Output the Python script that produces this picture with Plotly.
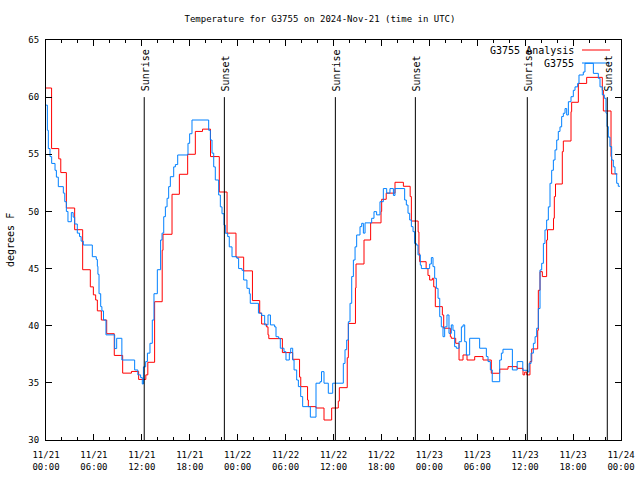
import pandas as pd
import plotly.graph_objects as go

# ---------------- data ----------------
START = "2024-11-21 00:00"
END = "2024-11-24 00:00"

analysis_hours = [0.0, 0.7, 1.6, 1.85, 2.55, 3.59, 4.59, 5.55, 5.93, 6.22, 6.43, 6.93, 7.6,
                  8.55, 9.6, 10.7, 11.6, 12.5, 12.75, 13.6, 14.55, 14.65, 15.78, 16.7, 17.74,
                  18.7, 19.6, 20.6, 21.7, 22.67, 23.79, 24.75, 25.85, 26.76, 27.0, 27.6, 27.8,
                  27.9, 29.6, 30.89, 31.75, 31.9, 32.75, 32.85, 33.81, 34.81, 35.77, 36.6,
                  36.73, 37.72, 37.86, 38.75, 38.82, 39.82, 40.65, 41.95, 42.03, 42.6, 43.7,
                  44.75, 45.6, 45.75, 46.6, 46.7, 46.79, 47.6, 47.83, 48.04, 48.38, 48.55,
                  48.75, 49.63, 49.8, 50.63, 50.75, 51.3, 51.72, 52.22, 52.72, 53.68, 54.72,
                  55.76, 56.81, 57.85, 58.98, 59.73, 59.94, 60.19, 60.6, 60.82, 61.57, 61.65,
                  61.86, 62.15, 62.69, 62.8, 63.55, 63.65, 63.8, 64.65, 64.78, 65.74, 65.82,
                  66.66, 67.7, 69.66, 69.79, 70.75, 70.83, 71.54]
analysis_temps = [60.8, 55.5, 54.6, 53.4, 50.3, 48.4, 44.9, 43.4, 42.7, 42.25, 41.3, 40.5, 39.3,
                  37.4, 35.85, 36.0, 35.3, 35.7, 36.8, 42.1, 46.6, 48.0, 51.5, 53.25, 55.0,
                  57.0, 57.2, 54.8, 51.7, 48.1, 46.0, 44.8, 42.2, 41.1, 40.15, 39.9, 39.2,
                  38.87, 37.65, 37.06, 35.5, 34.67, 33.5, 32.92, 32.8, 31.75, 32.8, 33.4,
                  34.58, 37.2, 40.2, 43.3, 45.4, 47.5, 49.0, 50.0, 51.06, 51.6, 52.55,
                  52.2, 51.3, 49.16, 48.2, 46.3, 45.6, 45.0, 44.4, 44.0, 44.15, 43.4,
                  41.67, 40.94, 39.78, 39.04, 38.9, 38.46, 37.0, 37.44, 37.0, 37.3, 37.0,
                  35.84, 36.2, 36.42, 36.27, 35.7, 35.94, 35.7, 36.86, 37.97, 39.6, 43.1,
                  44.73, 44.3, 47.5, 48.4, 49.4, 51.3, 52.4, 55.23, 56.16, 58.73, 59.55,
                  61.2, 61.73, 60.6, 58.79, 54.8, 53.28, 53.28]

station_hours = [0.0, 0.17, 0.29, 0.5, 0.71, 1.13, 1.3, 1.54, 2.17, 2.35, 2.55, 2.75, 3.17, 3.4,
                 3.59, 3.92, 4.2, 4.4, 4.67, 5.8, 6.3, 6.43, 6.5, 6.64, 6.85, 7.0, 7.2, 7.51,
                 8.6, 8.85, 9.5, 11.1, 11.5, 11.85, 12.06, 12.2, 12.48, 12.7, 13.02, 13.31,
                 13.52, 13.94, 14.35, 14.53, 14.74, 14.95, 15.16, 15.36, 15.57, 15.99, 16.2,
                 16.49, 17.78, 17.99, 18.28, 20.37, 20.58, 20.79, 21.0, 21.2, 21.62, 21.83,
                 22.04, 22.29, 22.45, 22.75, 22.95, 23.29, 23.9, 24.12, 24.54, 24.75, 25.16,
                 25.46, 25.58, 26.6, 27.0, 27.38, 27.8, 28.1, 28.63, 28.8, 29.13, 29.34,
                 29.8, 30.05, 30.47, 30.64, 30.89, 31.06, 31.39, 31.6, 31.89, 32.14, 33.1,
                 33.81, 34.31, 34.5, 34.81, 35.35, 35.9, 37.23, 37.44, 37.65, 37.86, 38.07,
                 38.28, 38.49, 38.7, 38.9, 39.32, 39.53, 39.74, 39.95, 40.78, 41.07, 41.4,
                 41.82, 42.24, 42.66, 43.07, 43.5, 43.7, 44.91, 45.12, 45.33, 45.54, 45.75,
                 45.96, 46.16, 46.37, 46.58, 46.87, 47.0, 48.04, 48.25, 48.46, 48.67, 48.88,
                 49.09, 49.3, 49.5, 49.71, 49.92, 50.21, 50.46, 50.75, 50.96, 51.17, 51.38,
                 51.72, 52.01, 52.22, 52.43, 52.64, 53.05, 54.3, 55.14, 55.35, 55.64, 55.88,
                 56.81, 57.02, 57.22, 58.4, 59.0, 59.7, 60.32, 60.49, 60.74, 61.03, 61.24,
                 61.44, 61.65, 61.86, 62.07, 62.28, 62.48, 62.69, 62.9, 63.11, 63.32, 63.53,
                 63.74, 63.95, 64.15, 64.36, 64.57, 64.78, 64.99, 65.2, 65.41, 65.74, 66.03,
                 66.24, 66.57, 66.74, 67.28, 67.49, 68.54, 69.16, 69.37, 69.66, 69.91, 70.12,
                 70.25, 70.41, 70.62, 70.83, 71.04, 71.25, 71.46, 71.66, 71.87]
station_temps = [59.3, 57.1, 55.5, 54.8, 54.2, 53.6, 53.0, 52.17, 51.6, 50.85, 50.0, 49.1, 49.9,
                 49.5, 48.9, 48.1, 47.8, 47.4, 47.06, 46.04, 45.8, 45.2, 44.5, 42.8, 41.67,
                 41.3, 40.5, 39.2, 38.0, 38.9, 37.0, 36.13, 35.7, 35.46, 34.9, 36.4, 36.86,
                 37.6, 38.46, 40.5, 42.8, 44.9, 47.5, 48.1, 49.54, 50.4, 51.15, 52.17, 53.04,
                 53.9, 54.1, 54.94, 55.96, 56.8, 58.0, 57.1, 56.25, 55.1, 53.9, 52.75, 51.44,
                 50.4, 49.8, 48.8, 48.09, 47.8, 46.9, 46.04, 45.9, 45.0, 44.85, 44.0, 43.27,
                 42.8, 41.96, 41.1, 40.9, 40.07, 40.94, 40.07, 39.9, 39.04, 38.9, 38.03,
                 37.73, 37.0, 37.6, 38.03, 37.0, 36.13, 35.25, 34.67, 33.8, 32.92, 32.0,
                 34.97, 35.1, 35.98, 34.97, 34.09, 34.97, 36.7, 37.9, 38.75, 40.35, 41.96,
                 44.3, 45.75, 46.9, 47.94, 48.67, 48.96, 48.1, 49.0, 49.4, 49.98, 49.7,
                 50.85, 52.0, 51.6, 52.0, 51.4, 52.0, 51.0, 50.56, 49.84, 49.25, 48.67,
                 48.23, 47.2, 47.06, 46.2, 45.3, 45.0, 45.4, 45.96, 45.17, 44.15, 43.27,
                 42.4, 40.79, 39.9, 39.04, 39.9, 40.94, 39.33, 40.07, 39.6, 38.17, 38.03,
                 38.6, 39.9, 40.07, 38.6, 37.44, 38.9, 38.03, 37.3, 36.86, 36.13, 35.1,
                 37.0, 37.6, 37.94, 36.13, 36.86, 36.1, 35.96, 36.7, 37.6, 38.46, 39.04,
                 39.78, 41.5, 44.88, 45.46, 47.2, 48.38, 49.25, 50.4, 52.46, 53.6, 54.5,
                 55.38, 56.25, 57.0, 57.4, 58.3, 58.59, 59.0, 58.44, 59.6, 60.04, 60.6,
                 60.9, 61.2, 61.94, 62.2, 62.96, 62.08, 61.65, 60.9, 60.2, 59.9, 58.6,
                 57.42, 56.5, 55.67, 54.5, 53.9, 53.3, 52.46, 52.2, 52.2]

sun_labels = ["Sunrise", "Sunset", "Sunrise", "Sunset", "Sunrise", "Sunset"]
sun_times = ["2024-11-21 12:18", "2024-11-21 22:20", "2024-11-22 12:14",
             "2024-11-22 22:15", "2024-11-23 12:16", "2024-11-23 22:17"]
sun_line_temps = [30, 60]

tick_times = pd.date_range(START, END, freq="6h")
tick_labels = [f"{t:%m/%d}<br>{t:%H:%M}" for t in tick_times]
y_ticks = [30, 35, 40, 45, 50, 55, 60, 65]

series_names = ["G3755 Analysis", "G3755"]
series_colors = ["#ff0000", "#0080ff"]
title_text = "Temperature for G3755 on 2024-Nov-21 (time in UTC)"
y_title = "degrees F"

# ---------------- figure ----------------
base = pd.Timestamp(START)
def to_time(hours):
    return [base + pd.Timedelta(hours=h) for h in hours]

FONT = "DejaVu Sans Mono"
fig = go.Figure()
fig.add_trace(go.Scatter(x=to_time(analysis_hours), y=analysis_temps, mode="lines",
                         line=dict(color=series_colors[0], width=1, shape="hv"),
                         name=series_names[0], showlegend=False))
fig.add_trace(go.Scatter(x=to_time(station_hours), y=station_temps, mode="lines",
                         line=dict(color=series_colors[1], width=1, shape="hv"),
                         name=series_names[1], showlegend=False))

for lab, t in zip(sun_labels, sun_times):
    fig.add_shape(type="line", xref="x", yref="y", x0=t, x1=t,
                  y0=sun_line_temps[0], y1=sun_line_temps[1],
                  line=dict(color="black", width=1))
    fig.add_annotation(x=t, y=sun_line_temps[1], xref="x", yref="y", text=lab,
                       textangle=-90, showarrow=False, xanchor="center", yanchor="bottom",
                       yshift=4, xshift=1, font=dict(family=FONT, size=10, color="black"))

# gnuplot-style key: text right-aligned, line sample on the right
W, H = 640, 480
L, R, T, B = 46, 19, 40, 40
pw, ph = W - L - R, H - T - B
def px(xp):
    return (xp - L) / pw
def py(yp):
    return (H - B - yp) / ph
for i, (nm, col) in enumerate(zip(series_names, series_colors)):
    yy = 50 + 13 * i
    fig.add_annotation(x=px(576), y=py(yy), xref="paper", yref="paper", text=nm,
                       showarrow=False, xanchor="right", yanchor="middle",
                       font=dict(family=FONT, size=10, color="black"))
    fig.add_shape(type="line", xref="paper", yref="paper", x0=px(582), x1=px(610),
                  y0=py(yy), y1=py(yy), line=dict(color=col, width=1))

minor_vals = pd.date_range(START, END, freq="2h")
fig.update_layout(
    width=W, height=H, margin=dict(l=L, r=R, t=T, b=B, autoexpand=False),
    paper_bgcolor="white", plot_bgcolor="white",
    font=dict(family=FONT, size=9, color="black"),
    title=dict(text=title_text, x=0.5, xanchor="center", y=1 - 19 / H, yanchor="middle",
               yref="container", automargin=False,
               font=dict(family=FONT, size=9, color="black")),
    xaxis=dict(type="date", range=[START, END], tickmode="array", tickvals=tick_times,
               ticktext=tick_labels, ticks="inside", ticklen=6, tickcolor="black",
               showline=True, linecolor="black", linewidth=1, mirror="ticks",
               showgrid=False, zeroline=False, ticklabelstandoff=6, automargin=False,
               minor=dict(tickmode="array", tickvals=minor_vals, ticks="inside",
                          ticklen=3, tickcolor="black", showgrid=False)),
    yaxis=dict(range=[30, 65], tickmode="array", tickvals=y_ticks, ticks="inside",
               ticklen=6, tickcolor="black", showline=True, linecolor="black",
               linewidth=1, mirror="ticks", showgrid=False, zeroline=False,
               ticklabelstandoff=4, automargin=False),
)
fig.add_annotation(x=px(10), y=0.5, xref="paper", yref="paper", text=y_title,
                   textangle=-90, showarrow=False, xanchor="center", yanchor="middle",
                   font=dict(family=FONT, size=10, color="black"))

fig.write_html("out.html", config={"displayModeBar": False},
               post_script="document.body.style.margin='0';")
